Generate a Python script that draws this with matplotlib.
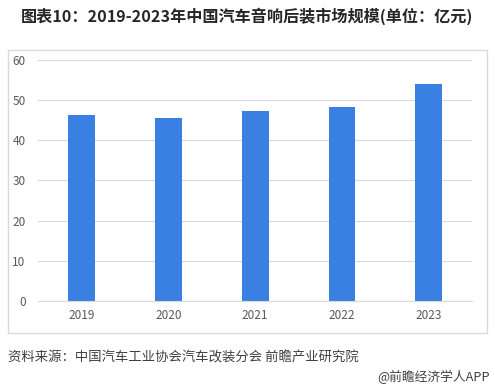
import matplotlib.pyplot as plt
from matplotlib.patches import Rectangle

plt.rcParams['font.family'] = ['Noto Sans CJK SC', 'DejaVu Sans']

years = ['2019', '2020', '2021', '2022', '2023']
market_size = [46.3, 45.5, 47.3, 48.3, 54.0]

fig = plt.figure(figsize=(4.95, 3.89), dpi=100)

# frame around the chart area
fig.patches.append(Rectangle((0.016, 0.144), 0.968, 0.7275, transform=fig.transFigure,
                             fill=False, edgecolor='#d9d9d9', linewidth=1))

ax = fig.add_axes([0.077, 0.226, 0.877, 0.620])
ax.bar(range(len(years)), market_size, width=0.31, color='#3a80e2', zorder=2)

ax.set_xlim(-0.5, len(years) - 0.5)
ax.set_ylim(0, 60)
ax.set_yticks(range(0, 61, 10))
ax.set_xticks(range(len(years)))
ax.set_xticklabels(years)
ax.grid(axis='y', color='#d9d9d9', linewidth=0.8, zorder=0)
for s in ax.spines.values():
    s.set_visible(False)
ax.spines['bottom'].set_visible(True)
ax.spines['bottom'].set_color('#d9d9d9')
ax.tick_params(axis='both', length=0, labelsize=8.5, labelcolor='#595959', colors='#595959')
ax.tick_params(axis='y', pad=9)
ax.tick_params(axis='x', pad=6)

fig.text(0.5, 0.958, '图表10：2019-2023年中国汽车音响后装市场规模(单位：亿元)',
         ha='center', va='center', fontsize=11.6, fontweight='bold', color='#262626')
fig.text(0.016, 0.081, '资料来源：中国汽车工业协会汽车改装分会 前瞻产业研究院',
         ha='left', va='center', fontsize=9.6, color='#404040')
fig.text(0.99, 0.030, '@前瞻经济学人APP', ha='right', va='center', fontsize=9.2, color='#404040')

fig.savefig('out.png', dpi=100)
